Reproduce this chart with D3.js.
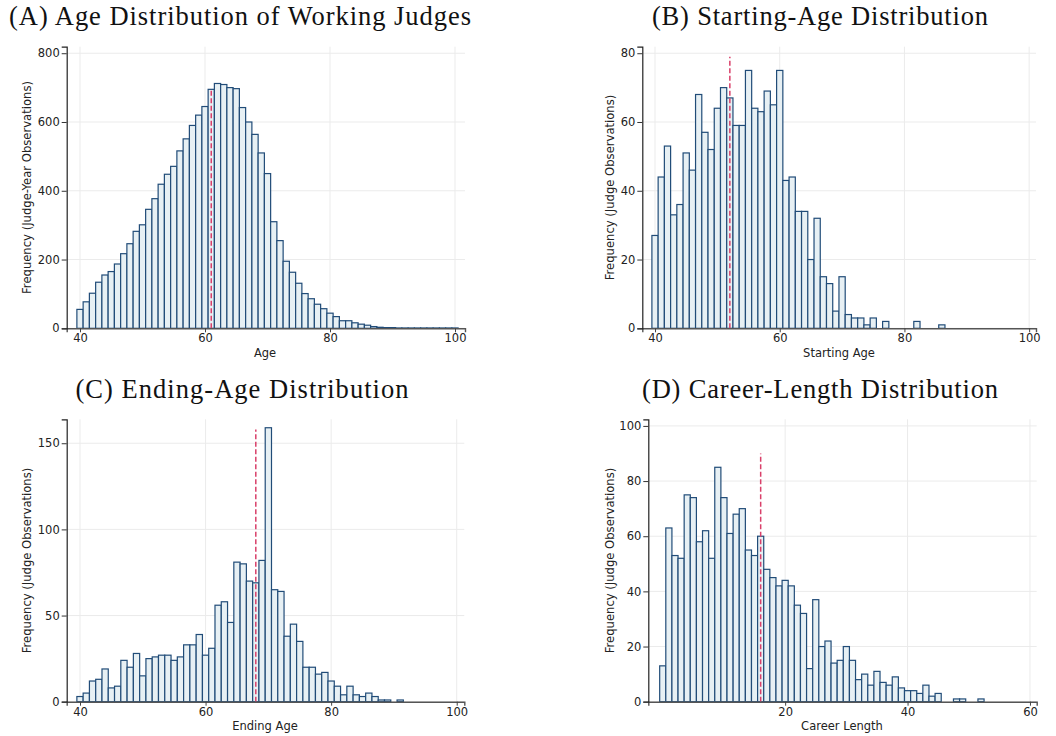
<!DOCTYPE html>
<html>
<head>
<meta charset="utf-8">
<script src="https://cdn.jsdelivr.net/npm/d3@7"></script>
<style>
  html, body { margin: 0; padding: 0; background: #ffffff; }
  svg { display: block; }
</style>
</head>
<body>
<svg id="chart" width="1056" height="736"></svg>
<script>
// ---------------- DATA ----------------
const ageBins = [40,41,42,43,44,45,46,47,48,49,50,51,52,53,54,55,56,57,58,59,60,61,62,63,64,65,66,67,68,69,70,71,72,73,74,75,76,77,78,79,80,81,82,83,84,85,86,87,88,89,90,91,92,93,94,95,96,97,98,99,100];
const ageCounts = [55,77,102,134,155,165,187,217,246,282,301,346,377,419,448,471,516,551,590,620,645,695,712,709,700,697,642,600,564,510,450,310,255,195,163,131,101,86,70,57,44,34,22,22,16,12,9,5,3,2,2,1,1,1,1,1,1,1,1,1,1];

const startBins = [40,41,42,43,44,45,46,47,48,49,50,51,52,53,54,55,56,57,58,59,60,61,62,63,64,65,66,67,68,69,70,71,72,73,74,75,76,77,78,79,80,81,82,83,84,85,86];
const startCounts = [27,44,53,33,36,51,46,68,57,52,64,70,67,59,59,75,64,63,69,65,75,43,44,34,34,20,32,15,13,5,15,4,3,3,1,3,0,2,0,0,0,0,2,0,0,0,1];

const endBins = [40,41,42,43,44,45,46,47,48,49,50,51,52,53,54,55,56,57,58,59,60,61,62,63,64,65,66,67,68,69,70,71,72,73,74,75,76,77,78,79,80,81,82,83,84,85,86,87,88,89,90,91];
const endCounts = [3,5,12,13,19,8,9,24,20,28,15,25,26,27,27,24,26,33,33,39,27,31,56,58,46,81,80,70,69,82,159,65,64,38,45,35,20,20,16,17,12,9,4,9,4,3,5,3,1,1,0,1];

const careerBins = [0,1,2,3,4,5,6,7,8,9,10,11,12,13,14,15,16,17,18,19,20,21,22,23,24,25,26,27,28,29,30,31,32,33,34,35,36,37,38,39,40,41,42,43,44,45,46,47,48,49,50,51,52];
const careerCounts = [13,63,53,52,75,74,58,62,52,85,74,61,68,70,55,53,60,48,45,42,44,42,35,32,12,37,20,22,14,15,20,15,8,10,6,11,7,6,9,5,4,4,3,6,2,3,0,0,1,1,0,0,1];

const titles = ["(A) Age Distribution of Working Judges", "(B) Starting-Age Distribution", "(C) Ending-Age Distribution", "(D) Career-Length Distribution"];
const xLabels = ["Age", "Starting Age", "Ending Age", "Career Length"];
const yLabels = ["Frequency (Judge-Year Observations)", "Frequency (Judge Observations)", "Frequency (Judge Observations)", "Frequency (Judge Observations)"];
const medians = [61, 52, 68, 16];
const medianLineTops = [698, 79, 158, 90];
const xTicksA = [40, 60, 80, 100];
const xTicksB = [40, 60, 80, 100];
const xTicksC = [40, 60, 80, 100];
const xTicksD = [20, 40, 60];
const yTicksA = [0, 200, 400, 600, 800];
const yTicksB = [0, 20, 40, 60, 80];
const yTicksC = [0, 50, 100, 150];
const yTicksD = [0, 20, 40, 60, 80, 100];

// ---------------- LAYOUT ----------------
const layout = [
  { left: 66.7, right: 465, top: 46.7, bottom: 328.3, xDom: [37.87, 101.6], yDom: [0, 819],
    titleX: 240, titleY: 25, titleW: 462, xLabX: 265, xLabY: 357, yLabX: 27 },
  { left: 642.3, right: 1036, top: 46.7, bottom: 328.3, xDom: [37.96, 101.1], yDom: [0, 81.9],
    titleX: 820, titleY: 25, titleW: 336, xLabX: 839, xLabY: 357, yLabX: 609.5 },
  { left: 66.7, right: 464.3, top: 419.3, bottom: 701.7, xDom: [37.88, 101.21], yDom: [0, 163.9],
    titleX: 242, titleY: 398, titleW: 333, xLabX: 265, xLabY: 730, yLabX: 27 },
  { left: 648.3, right: 1036.7, top: 419.3, bottom: 701.7, xDom: [-2.36, 61.1], yDom: [0, 102.4],
    titleX: 820, titleY: 398, titleW: 356, xLabX: 842, xLabY: 730, yLabX: 609.5 }
];

const panels = [
  { bins: ageBins, counts: ageCounts, xTicks: xTicksA, yTicks: yTicksA },
  { bins: startBins, counts: startCounts, xTicks: xTicksB, yTicks: yTicksB },
  { bins: endBins, counts: endCounts, xTicks: xTicksC, yTicks: yTicksC },
  { bins: careerBins, counts: careerCounts, xTicks: xTicksD, yTicks: yTicksD }
];

const svg = d3.select("#chart");
const barFill = "#e7f0f4";
const barEdge = "#214c78";
const gridColor = "#ebebeb";
const medianColor = "#d9406a";

panels.forEach((p, i) => {
  const L = layout[i];
  const x = d3.scaleLinear().domain(L.xDom).range([L.left, L.right]);
  const y = d3.scaleLinear().domain(L.yDom).range([L.bottom, L.top]);
  const g = svg.append("g");

  // grid
  g.append("g").selectAll("line").data(p.yTicks).join("line")
    .attr("x1", L.left).attr("x2", L.right)
    .attr("y1", d => y(d)).attr("y2", d => y(d))
    .attr("stroke", gridColor).attr("stroke-width", 1);
  g.append("g").selectAll("line").data(p.xTicks).join("line")
    .attr("x1", d => x(d)).attr("x2", d => x(d))
    .attr("y1", L.top).attr("y2", L.bottom)
    .attr("stroke", gridColor).attr("stroke-width", 1);

  // bars
  const data = p.bins.map((b, k) => ({ b, c: p.counts[k] })).filter(d => d.c > 0);
  g.append("g").selectAll("rect").data(data).join("rect")
    .attr("x", d => x(d.b - 0.5))
    .attr("width", d => x(d.b + 0.5) - x(d.b - 0.5))
    .attr("y", d => y(d.c))
    .attr("height", d => y(0) - y(d.c))
    .attr("fill", barFill)
    .attr("stroke", barEdge)
    .attr("stroke-width", 1.2);

  // median line
  g.append("line")
    .attr("x1", x(medians[i])).attr("x2", x(medians[i]))
    .attr("y1", y(0)).attr("y2", y(medianLineTops[i]))
    .attr("stroke", medianColor).attr("stroke-width", 1.5)
    .attr("stroke-dasharray", "5,2.5");

  // axes
  const xAxis = d3.axisBottom(x).tickValues(p.xTicks).tickSize(4).tickPadding(2).tickFormat(d3.format("d"));
  const yAxis = d3.axisLeft(y).tickValues(p.yTicks).tickSize(5).tickPadding(2).tickFormat(d3.format("d"));

  const gx = g.append("g").attr("transform", `translate(0,${L.bottom})`).call(xAxis);
  gx.select(".domain").attr("stroke", "#555").attr("stroke-width", 1.4);
  gx.selectAll(".tick line").attr("stroke", "#444");
  gx.selectAll(".tick text").attr("font-family", "DejaVu Sans, sans-serif").attr("font-size", 11.5).attr("fill", "#222");

  const gy = g.append("g").attr("transform", `translate(${L.left},0)`).call(yAxis);
  gy.select(".domain").attr("stroke", "#222").attr("stroke-width", 1.2);
  gy.selectAll(".tick line").attr("stroke", "#333");
  gy.selectAll(".tick text").attr("font-family", "DejaVu Sans, sans-serif").attr("font-size", 11.5).attr("fill", "#222");

  // title
  svg.append("text")
    .attr("x", L.titleX).attr("y", L.titleY)
    .attr("text-anchor", "middle")
    .attr("font-family", "Liberation Serif, DejaVu Serif, serif")
    .attr("font-size", 26.5)
    .attr("fill", "#111")
    .attr("textLength", L.titleW)
    .attr("lengthAdjust", "spacing")
    .text(titles[i]);

  // x label
  svg.append("text")
    .attr("x", L.xLabX).attr("y", L.xLabY)
    .attr("text-anchor", "middle")
    .attr("font-family", "DejaVu Sans, sans-serif")
    .attr("font-size", 11.5)
    .attr("fill", "#222")
    .text(xLabels[i]);

  // y label
  const cy = (L.top + L.bottom) / 2;
  svg.append("text")
    .attr("transform", `translate(${L.yLabX},${cy}) rotate(-90)`)
    .attr("text-anchor", "middle")
    .attr("dominant-baseline", "central")
    .attr("font-family", "DejaVu Sans, sans-serif")
    .attr("font-size", 11.6)
    .attr("fill", "#222")
    .text(yLabels[i]);
});
</script>
</body>
</html>
